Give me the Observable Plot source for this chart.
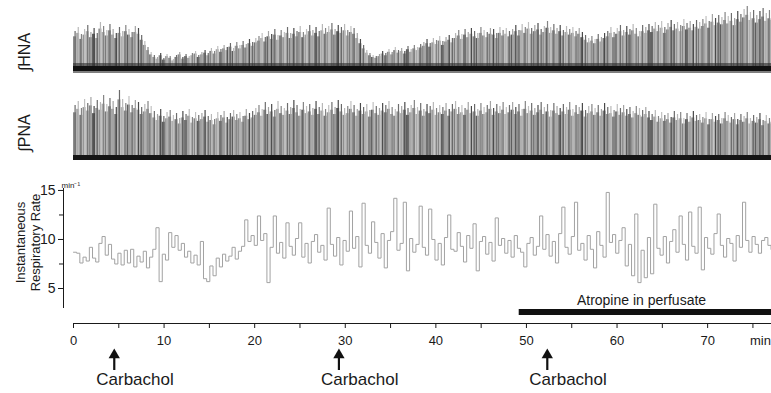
<!DOCTYPE html>
<html><head><meta charset="utf-8">
<script src="https://cdn.jsdelivr.net/npm/d3@7"></script>
<script src="https://cdn.jsdelivr.net/npm/@observablehq/plot@0.6"></script>
<style>
body{margin:0;background:#fff;}
#fig{position:relative;width:771px;height:393px;overflow:hidden;font-family:"Liberation Sans",Arial,sans-serif;}
#fig svg{position:absolute;left:0;}
</style></head><body><div id="fig"></div>
<script>
// sampling interval of the traces (minutes)
const step = 0.35;
const tMax = 77.05;

// integrated hypoglossal nerve activity: burst amplitudes (arbitrary units)
const hnaAmp = [38,42,35,40,44,37,41,36,47,43,39,45,40,36,42,38,44,40,37,43,41,34,
28,22,17,
14,12,16,11,15,13,10,14,17,12,15,13,16,18,14,17,
19,16,21,18,23,20,24,22,26,21,27,24,28,25,30,27,31,
33,36,32,38,35,40,34,39,37,42,36,41,38,43,37,40,44,39,42,38,45,41,43,46,40,44,42,45,39,43,41,
36,30,24,19,16,14,13,15,
18,16,20,17,22,19,21,18,23,20,24,22,25,
27,30,26,31,29,33,28,32,34,31,
36,39,35,40,37,41,38,36,42,39,37,41,40,36,42,39,41,38,
40,44,39,45,42,47,41,44,46,40,43,48,42,45,41,44,39,43,40,42,38,41,37,
34,31,33,30,35,32,36,
38,42,37,41,44,39,43,40,45,41,38,44,42,
45,43,47,44,48,42,46,49,45,47,44,50,46,48,45,49,47,
50,53,48,55,51,54,52,57,53,56,51,58,55,60,63,57,59,54,58,61,56,59,57];

// integrated phrenic nerve activity: burst amplitudes (arbitrary units)
const pnaAmp = [52,56,49,58,54,60,51,57,55,62,53,59,56,50,67,58,54,61,52,57,55,50,53,56,51,
46,43,48,41,45,47,42,44,39,46,43,48,40,45,42,44,47,41,43,38,45,42,46,40,44,47,43,45,41,48,44,46,49,
52,48,55,50,53,47,56,51,49,54,50,57,52,48,55,51,53,49,56,50,
54,48,52,55,50,57,53,49,51,56,52,48,54,50,53,47,55,51,49,54,
52,56,50,48,53,51,55,49,52,57,50,54,48,53,51,55,49,52,50,54,
48,53,56,50,52,49,55,51,53,48,54,50,52,56,49,53,51,55,50,52,
55,50,53,48,56,51,54,49,52,55,50,53,47,54,51,49,53,50,55,48,
52,50,54,47,51,53,49,52,48,54,50,51,47,53,49,52,48,50,46,51,
49,47,50,
46,43,47,41,45,42,44,40,46,43,45,39,44,41,46,42,43,40,45,38,
44,41,43,39,45,42,40,44,38,43,41,45,39,42,40,44,37,42,39,41];

// instantaneous respiratory rate (min^-1)
const rate = [8.7,8.6,7.6,8.2,7.8,9.2,8.1,7.7,9.6,10.3,
8.4,9.5,8.0,7.5,8.6,7.4,8.9,7.6,9.0,7.2,
8.3,7.7,8.8,7.1,8.2,9.0,11.2,5.7,8.5,7.9,
10.7,9.2,10.4,8.9,9.6,8.2,8.8,7.6,8.4,7.4,
9.8,6.0,5.7,7.3,6.3,8.1,7.2,8.5,7.8,8.3,
9.2,8.0,8.8,9.3,12.0,9.8,10.4,9.4,12.4,9.9,
10.6,5.6,9.2,12.4,8.6,9.7,8.1,11.7,9.3,8.4,
10.1,11.7,8.2,9.6,7.6,9.8,10.5,8.7,9.4,7.9,
13.2,9.5,8.3,10.2,7.4,9.9,8.8,12.9,9.1,10.3,
7.2,13.7,9.4,8.6,11.8,9.7,8.1,10.6,7.1,9.9,
10.8,14.2,8.9,9.6,13.8,6.8,10.1,8.7,9.5,13.4,
9.2,8.4,13.1,10.0,7.9,9.6,7.4,10.2,12.5,9.0,
8.8,10.7,9.3,7.7,10.4,9.1,11.6,6.8,9.8,10.3,
8.5,9.7,7.8,12.2,9.4,10.1,8.6,9.9,8.2,10.4,
9.1,8.7,7.2,9.6,10.2,8.4,9.3,12.4,9.0,10.5,
8.3,9.8,7.6,10.6,13.3,9.2,8.5,10.3,13.8,8.9,
9.6,7.9,10.4,9.0,7.1,10.8,9.4,8.2,14.8,9.7,
10.5,8.6,9.9,11.2,7.3,9.5,6.3,12.6,5.6,8.9,
6.1,10.2,6.5,13.6,9.1,8.4,10.3,7.6,9.8,11.0,
8.7,12.4,9.5,7.9,12.8,9.3,8.6,13.3,6.9,10.2,
9.1,8.5,10.6,12.6,9.4,8.2,10.1,9.6,7.8,10.4,
9.2,13.8,9.9,8.7,10.3,9.5,8.6,9.9,10.2,9.4,9.0];

const carbacholTimes = [4.5, 29.3, 52.3];
const atropineStart = 49.2;
const atropineLabelAt = 62.7;
const xTicks = [0,5,10,15,20,25,30,35,40,45,50,55,60,65,70,75];
const xUnitAt = 75;
const rateTicks = [5,10,15];
const rateMinorTicks = [7.5,12.5];

const shades = ["#8c8c8c","#a4a4a4","#777777","#969696","#b0b0b0","#858585","#5e5e5e","#9c9c9c","#8e8e8e","#aaaaaa","#7b7b7b"];
const spikeShades = ["#6a6a6a","#b8b8b8","#848484","#c0c0c0","#6e6e6e","#a4a4a4","#4a4a4a"];
const FONT = "Liberation Sans, Arial, sans-serif";
const INK = "#1a1a1a";
const fig = document.getElementById("fig");

function place(svg, top){ svg.style.top = top + "px"; fig.appendChild(svg); }
const common = {width:771, marginLeft:73, marginRight:0,
  style:{fontFamily:FONT, color:INK, background:"transparent", overflow:"visible"}};

function burstData(arr){
  return arr.map((v,i)=>({t0:i*step, t1:(i+1)*step, tm:(i+0.5)*step, v, body:v*0.86,
    c:shades[i%shades.length], s:spikeShades[i%spikeShades.length]}));
}
function burstMarks(arr){
  const data = burstData(arr);
  return [
    Plot.rectY(data, {x1:"t0", x2:"t1", y1:0, y2:"body", fill:"c", insetRight:0.2}),
    Plot.ruleX(data, {x:"tm", y1:0, y2:"v", stroke:"s", strokeWidth:1.2})
  ];
}

// HNA panel
place(Plot.plot({...common, height:80, marginTop:0, marginBottom:11,
  x:{domain:[0,tMax], axis:null}, y:{domain:[0,69], axis:null},
  marks:[
    ...burstMarks(hnaAmp),
    Plot.rectY([0], {x1:0, x2:tMax, y1:-4, y2:6, fill:"#2a2a2a", fillOpacity:0.6}),
    Plot.rectY([0], {x1:0, x2:tMax, y1:-2, y2:3, fill:"#111"}),
    Plot.text(["∫HNA"], {frameAnchor:"left", dx:-49, dy:17, rotate:-90, textAnchor:"middle", fontSize:16, fill:INK})
  ]}), 0);

// PNA panel
place(Plot.plot({...common, height:90, marginTop:0, marginBottom:13,
  x:{domain:[0,tMax], axis:null}, y:{domain:[0,77], axis:null},
  marks:[
    ...burstMarks(pnaAmp),
    Plot.rectY([0], {x1:0, x2:tMax, y1:-3, y2:2, fill:"#151515"}),
    Plot.text(["∫PNA"], {frameAnchor:"left", dx:-49, dy:14, rotate:-90, textAnchor:"middle", fontSize:16, fill:INK})
  ]}), 80);

// Respiratory rate panel
const rateData = rate.map((r,i)=>({t:i*step, r}));
place(Plot.plot({...common, height:145, marginTop:18, marginBottom:7,
  x:{domain:[0,tMax], axis:null}, y:{domain:[2.96,15.2]},
  marks:[
    Plot.ruleX([0], {y1:2.96, y2:15.2, dx:-10, stroke:INK}),
    Plot.axisY({ticks:rateTicks, tickSize:5, tickPadding:3, dx:-10, fontSize:14, label:null, stroke:INK, fill:INK}),
    Plot.axisY({ticks:rateMinorTicks, tickSize:4, tickFormat:()=>"", dx:-10, label:null, stroke:INK}),
    Plot.line(rateData, {x:"t", y:"r", curve:"step-after", stroke:"#a2a2a2", strokeWidth:1}),
    Plot.text(["Instantaneous\nRespiratory Rate"], {frameAnchor:"left", rotate:-90, textAnchor:"middle", dx:-46, dy:-6, fontSize:13, lineHeight:1.15, fill:INK}),
    Plot.text(["min⁻¹"], {frameAnchor:"top-left", dx:-12, dy:-1, textAnchor:"start", lineAnchor:"bottom", fontSize:8, fill:INK})
  ]}), 170);

// Bottom: atropine bar, time axis, carbachol arrows
place(Plot.plot({...common, height:103, marginTop:0, marginBottom:70,
  x:{domain:[0,tMax]}, y:{domain:[0,103], range:[0,103], axis:null},
  marks:[
    Plot.frame({anchor:"bottom", stroke:INK}),
    Plot.axisX({ticks:xTicks, tickSize:5, tickPadding:7, fontSize:13, label:null, stroke:INK, fill:INK,
      tickFormat:d => (d % 10 === 0 ? String(d) : "")}),
    Plot.text(["min"], {x:xUnitAt, y:50, textAnchor:"start", dx:-3, fontSize:13, fill:INK}),
    Plot.rect([atropineStart], {x1:d=>d, x2:tMax, y1:19, y2:25, fill:"#111"}),
    Plot.text(["Atropine in perfusate"], {x:atropineLabelAt, y:10.5, fontSize:14, fill:INK}),
    Plot.ruleX(carbacholTimes, {x:d=>d, y1:66, y2:80, strokeWidth:2.2, stroke:"#111"}),
    Plot.dot(carbacholTimes, {x:d=>d, y:64.5, symbol:"triangle", r:4.2, fill:"#111", stroke:null}),
    Plot.text(carbacholTimes, {x:d=>d, y:89.5, text:()=>"Carbachol", textAnchor:"start", dx:-18, fontSize:17, fill:INK})
  ]}), 290);
</script></body></html>
